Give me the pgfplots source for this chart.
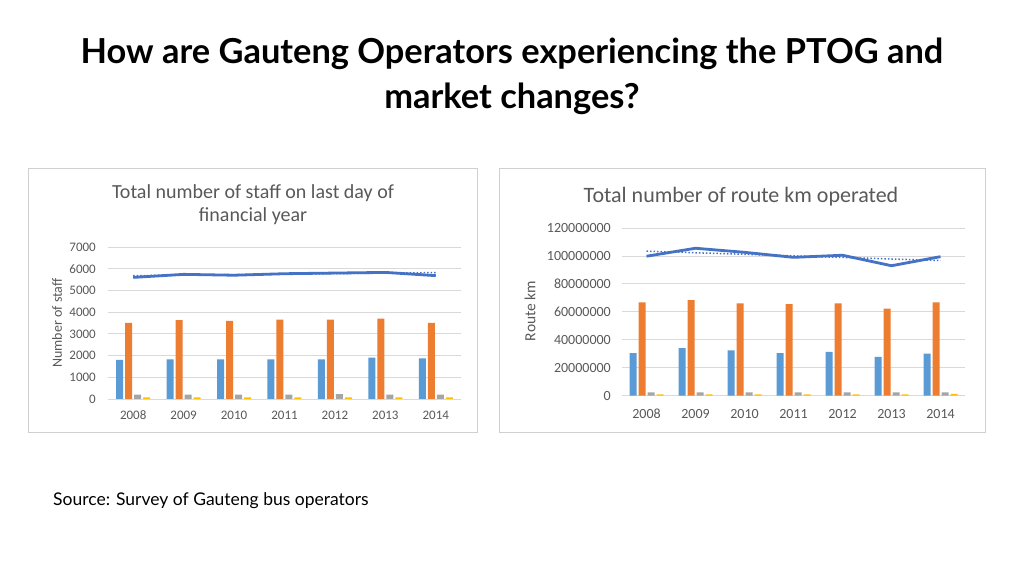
\documentclass[border=0pt]{standalone}
\usepackage{pgfplots}
\pgfplotsset{compat=1.18}
\usepackage{fontspec}
\setmainfont{Carlito}
\newfontfamily\latofont{Lato}
\definecolor{cblue}{HTML}{5B9BD5}
\definecolor{corange}{HTML}{ED7D31}
\definecolor{cgray}{HTML}{A5A5A5}
\definecolor{cyellow}{HTML}{FFC000}
\definecolor{cline}{HTML}{4472C4}
\definecolor{ctext}{HTML}{595959}
\definecolor{cgrid}{HTML}{D9D9D9}
\definecolor{cpanel}{HTML}{D0D0D0}
\begin{document}
\begin{tikzpicture}[x=1pt,y=1pt]
\fill[white] (0,0) rectangle (1024,575);
\node[font=\latofont\bfseries\fontsize{34.4}{45}\selectfont, align=center] at (512,499) {How are Gauteng Operators experiencing the PTOG and\\market changes?};
\node[font=\latofont\fontsize{17.5}{20}\selectfont, anchor=west, inner sep=0pt] at (53,74) {Source: Survey of Gauteng bus operators};
\draw[cpanel, line width=1pt] (28.5,406.5) rectangle (477,142);
\draw[cpanel, line width=1pt] (499,406.5) rectangle (985,142);
\node[font=\fontsize{20}{23}\selectfont, text=ctext, align=center] at (253,370) {Total number of staff on last day of\\financial year};
\node[font=\fontsize{22}{25}\selectfont, text=ctext] at (741,378.5) {Total number of route km operated};
\node[font=\fontsize{14}{16}\selectfont, text=ctext, rotate=90] at (57,252) {Number of staff};
\node[font=\fontsize{15.5}{17}\selectfont, text=ctext, rotate=90] at (530,264) {Route km};
\pgfplotsset{myaxis/.style={
  scale only axis, anchor=south west,
  xmin=-0.5, xmax=6.5, ymin=0,
  xtick={0,1,2,3,4,5,6}, xticklabels={2008,2009,2010,2011,2012,2013,2014},
  axis line style={draw=none}, major tick length=0pt,
  ymajorgrids, grid style={cgrid, line width=0.8pt},
  scaled y ticks=false,
  /pgf/number format/.cd, fixed, precision=0, 1000 sep={}, assume math mode=true, /pgfplots/.cd,
  tick label style={text=ctext},
  clip=false,
}}
\begin{axis}[myaxis, at={(108pt,176pt)}, width=353pt, height=152pt, ymax=7000, ytick={0,1000,...,7000},
  yticklabel style={anchor=east, inner sep=0pt, xshift=-12pt, font=\fontsize{13}{15}\selectfont},
  xticklabel style={anchor=base, inner sep=0pt, yshift=-21pt, font=\fontsize{13}{15}\selectfont}]
\addplot[ybar, bar width=7pt, bar shift=-13.5pt, fill=cblue, draw=none] coordinates {(0,1800)(1,1830)(2,1830)(3,1830)(4,1830)(5,1900)(6,1870)};
\addplot[ybar, bar width=7pt, bar shift=-4.5pt, fill=corange, draw=none] coordinates {(0,3500)(1,3630)(2,3600)(3,3650)(4,3650)(5,3700)(6,3500)};
\addplot[ybar, bar width=7pt, bar shift=4.5pt, fill=cgray, draw=none] coordinates {(0,200)(1,200)(2,200)(3,200)(4,230)(5,200)(6,200)};
\addplot[ybar, bar width=7pt, bar shift=13.5pt, fill=cyellow, draw=none] coordinates {(0,70)(1,70)(2,70)(3,70)(4,70)(5,70)(6,70)};
\addplot[cline, line width=2.8pt, mark=none] coordinates {(0,5600)(1,5740)(2,5700)(3,5770)(4,5800)(5,5830)(6,5680)};
\addplot[cline, line width=1.5pt, dotted, mark=none] coordinates {(0,5680)(6,5820)};
\end{axis}
\begin{axis}[myaxis, at={(622pt,179.3pt)}, width=343pt, height=167.7pt, ymax=120000000, ytick={0,20000000,...,120000000},
  yticklabel style={anchor=east, inner sep=0pt, xshift=-11pt, font=\fontsize{14}{16}\selectfont},
  xticklabel style={anchor=base, inner sep=0pt, yshift=-23pt, font=\fontsize{14}{16}\selectfont}]
\addplot[ybar, bar width=7pt, bar shift=-13.5pt, fill=cblue, draw=none] coordinates {(0,30500000)(1,34100000)(2,32500000)(3,30500000)(4,31300000)(5,27700000)(6,30100000)};
\addplot[ybar, bar width=7pt, bar shift=-4.5pt, fill=corange, draw=none] coordinates {(0,66800000)(1,68300000)(2,66100000)(3,65600000)(4,66100000)(5,62300000)(6,66800000)};
\addplot[ybar, bar width=7pt, bar shift=4.5pt, fill=cgray, draw=none] coordinates {(0,2400000)(1,2400000)(2,2400000)(3,2400000)(4,2400000)(5,2400000)(6,2400000)};
\addplot[ybar, bar width=7pt, bar shift=13.5pt, fill=cyellow, draw=none] coordinates {(0,1000000)(1,900000)(2,900000)(3,900000)(4,900000)(5,900000)(6,1300000)};
\addplot[cline, line width=2.8pt, mark=none] coordinates {(0,99800000)(1,105500000)(2,102600000)(3,99000000)(4,100500000)(5,93000000)(6,99500000)};
\addplot[cline, line width=1.5pt, dotted, mark=none] coordinates {(0,103400000)(6,96700000)};
\end{axis}
\end{tikzpicture}
\end{document}
